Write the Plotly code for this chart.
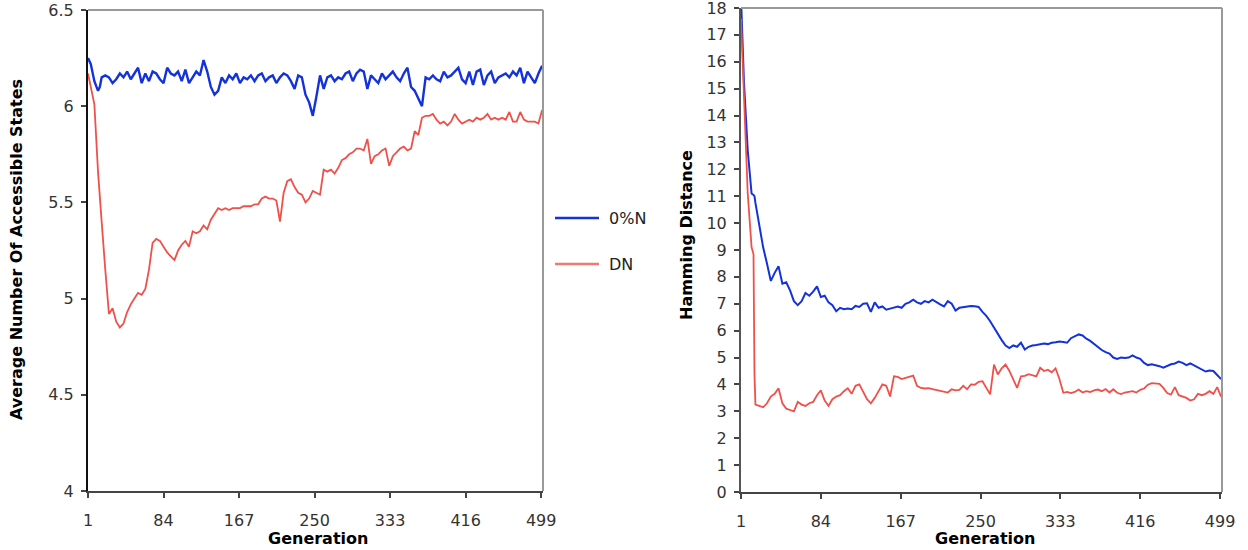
import plotly.graph_objects as go

# Generation index shared by every series (denser at the start where DN collapses)
GENERATIONS = [1, 4, 8, 12, 14, 15, 16] + list(range(20, 501, 4))

# Average number of accessible states
STATES_0N = [
    6.25, 6.22, 6.13, 6.08, 6.10, 6.12, 6.15,
    6.16, 6.15, 6.12, 6.14, 6.17, 6.15, 6.18, 6.14, 6.17, 6.20,
    6.12, 6.17, 6.13, 6.18, 6.17, 6.14, 6.12, 6.20, 6.17, 6.16,
    6.18, 6.13, 6.19, 6.12, 6.15, 6.18, 6.16, 6.24, 6.18, 6.10,
    6.06, 6.08, 6.15, 6.12, 6.16, 6.14, 6.17, 6.12, 6.15, 6.14,
    6.16, 6.13, 6.16, 6.17, 6.13, 6.15, 6.16, 6.12, 6.15, 6.17,
    6.16, 6.13, 6.09, 6.16, 6.15, 6.06, 6.02, 5.95, 6.05, 6.16,
    6.09, 6.15, 6.16, 6.13, 6.15, 6.14, 6.17, 6.18, 6.13, 6.17,
    6.19, 6.18, 6.09, 6.16, 6.14, 6.12, 6.17, 6.14, 6.16, 6.18,
    6.15, 6.13, 6.17, 6.20, 6.10, 6.08, 6.04, 6.00, 6.15, 6.14,
    6.16, 6.14, 6.13, 6.18, 6.15, 6.16, 6.18, 6.20, 6.14, 6.12,
    6.18, 6.11, 6.18, 6.19, 6.11, 6.16, 6.18, 6.12, 6.15, 6.16,
    6.17, 6.15, 6.18, 6.16, 6.20, 6.12, 6.18, 6.15, 6.12, 6.17,
    6.21,
]
STATES_DN = [
    6.17, 6.10, 6.01, 5.66, 5.55, 5.47, 5.40,
    5.15, 4.92, 4.95, 4.88, 4.85, 4.87, 4.93, 4.97, 5.00, 5.03,
    5.02, 5.05, 5.15, 5.29, 5.31, 5.30, 5.27, 5.24, 5.22, 5.20,
    5.25, 5.28, 5.30, 5.27, 5.35, 5.34, 5.35, 5.38, 5.36, 5.41,
    5.44, 5.47, 5.46, 5.47, 5.46, 5.47, 5.47, 5.47, 5.48, 5.48,
    5.48, 5.49, 5.49, 5.52, 5.53, 5.52, 5.52, 5.51, 5.40, 5.55,
    5.61, 5.62, 5.58, 5.55, 5.54, 5.50, 5.52, 5.56, 5.55, 5.54,
    5.67, 5.66, 5.67, 5.65, 5.68, 5.72, 5.73, 5.75, 5.76, 5.78,
    5.78, 5.77, 5.83, 5.70, 5.74, 5.75, 5.77, 5.78, 5.69, 5.74,
    5.76, 5.78, 5.79, 5.77, 5.78, 5.87, 5.85, 5.94, 5.95, 5.95,
    5.96, 5.93, 5.91, 5.92, 5.90, 5.92, 5.96, 5.93, 5.91, 5.92,
    5.93, 5.92, 5.94, 5.93, 5.94, 5.96, 5.93, 5.94, 5.93, 5.94,
    5.93, 5.97, 5.92, 5.92, 5.97, 5.93, 5.92, 5.92, 5.92, 5.91,
    5.98,
]

# Hamming distance
HAMMING_0N = [
    18.4, 15.3, 12.7, 11.1, 11.05, 11.0, 10.75,
    9.9, 9.1, 8.5, 7.85, 8.15, 8.4, 7.75, 7.8, 7.5, 7.1,
    6.95, 7.1, 7.4, 7.3, 7.45, 7.65, 7.25, 7.3, 7.05, 6.95,
    6.72, 6.85, 6.8, 6.82, 6.8, 6.92, 6.88, 7.0, 7.02, 6.7,
    7.05, 6.85, 6.9, 6.78, 6.82, 6.85, 6.9, 6.85, 7.0, 7.05,
    7.15, 7.05, 7.0, 7.1, 7.05, 7.15, 7.05, 6.98, 6.9, 7.1,
    7.0, 6.75, 6.85, 6.88, 6.9, 6.92, 6.91, 6.88, 6.7, 6.55,
    6.35, 6.1, 5.85, 5.65, 5.45, 5.35, 5.45, 5.4, 5.55, 5.3,
    5.4, 5.45, 5.47, 5.5, 5.52, 5.5, 5.55, 5.57, 5.6, 5.58,
    5.55, 5.72, 5.8, 5.86, 5.82, 5.7, 5.62, 5.5, 5.38, 5.28,
    5.2, 5.15, 5.0, 4.95, 5.0, 4.98, 5.0, 5.08, 5.0, 4.95,
    4.8, 4.72, 4.75, 4.72, 4.68, 4.62, 4.7, 4.75, 4.78, 4.85,
    4.8, 4.72, 4.78, 4.7, 4.65, 4.55, 4.48, 4.52, 4.5, 4.35,
    4.2,
]
HAMMING_DN = [
    17.6, 14.8, 11.1, 9.1, 8.85, 4.4, 3.25,
    3.2, 3.15, 3.3, 3.55, 3.65, 3.86, 3.3, 3.1, 3.05, 3.0,
    3.35, 3.25, 3.2, 3.3, 3.35, 3.6, 3.78, 3.4, 3.2, 3.45,
    3.55, 3.6, 3.75, 3.86, 3.65, 3.95, 4.0, 3.7, 3.45, 3.3,
    3.5, 3.75, 4.0, 3.95, 3.55, 4.3, 4.28, 4.2, 4.25, 4.3,
    4.33, 3.95, 3.87, 3.85, 3.86, 3.83, 3.8, 3.75, 3.72, 3.7,
    3.82, 3.78, 3.8, 3.95, 3.82, 4.0, 3.99, 4.1, 4.12, 3.85,
    3.63, 4.74, 4.37, 4.6, 4.74, 4.5, 4.2, 3.87, 4.3, 4.32,
    4.38, 4.35, 4.3, 4.62, 4.5, 4.55, 4.45, 4.6, 4.2, 3.69,
    3.72, 3.68, 3.72, 3.81, 3.7, 3.75, 3.72, 3.78, 3.81, 3.75,
    3.83, 3.7, 3.82, 3.69, 3.64, 3.7, 3.72, 3.75, 3.7, 3.8,
    3.85, 3.99, 4.05, 4.03, 4.02, 3.87, 3.68, 3.62, 3.9, 3.6,
    3.56, 3.5, 3.4, 3.45, 3.65, 3.6, 3.65, 3.75, 3.65, 3.9,
    3.55,
]

for series in (STATES_0N, STATES_DN, HAMMING_0N, HAMMING_DN):
    assert len(series) == len(GENERATIONS), len(series)

GEN_TICKS = [1, 84, 167, 250, 333, 416, 499]
SERIES_NAMES = ["0%N", "DN"]

BLUE = "#1432dc"
RED = "#f0504a"
W, H = 1248, 550
FONT = "DejaVu Sans"

# plot areas in pixels: (left, right, top, bottom)
LEFT_BOX = (88, 543, 10, 491)
RIGHT_BOX = (741, 1222, 8, 492)


def xdom(box):
    return [box[0] / W, box[1] / W]


def ydom(box):
    return [1 - box[3] / H, 1 - box[2] / H]


fig = go.Figure()
fig.add_trace(go.Scatter(x=GENERATIONS, y=STATES_0N, name=SERIES_NAMES[0], mode="lines",
                         line=dict(color=BLUE, width=2.4), xaxis="x", yaxis="y"))
fig.add_trace(go.Scatter(x=GENERATIONS, y=STATES_DN, name=SERIES_NAMES[1], mode="lines",
                         line=dict(color=RED, width=1.8), xaxis="x", yaxis="y"))
fig.add_trace(go.Scatter(x=GENERATIONS, y=HAMMING_0N, name=SERIES_NAMES[0], mode="lines",
                         line=dict(color=BLUE, width=2.0), xaxis="x2", yaxis="y2"))
fig.add_trace(go.Scatter(x=GENERATIONS, y=HAMMING_DN, name=SERIES_NAMES[1], mode="lines",
                         line=dict(color=RED, width=1.8), xaxis="x2", yaxis="y2"))

tick_font = dict(family=FONT, size=16, color="#333333")
xaxis_common = dict(range=[1, 501], tickvals=GEN_TICKS, ticks="outside", ticklen=5,
                    tickwidth=1.5, tickcolor="#444444", showline=True, linewidth=2,
                    linecolor="#444444", showgrid=False, zeroline=False,
                    tickfont=tick_font, ticklabelstandoff=9, automargin=False,
                    ticklabeloverflow="allow")
yaxis_common = dict(ticks="outside", ticklen=5, tickwidth=1.5, tickcolor="#444444",
                    showline=True, linewidth=2, showgrid=False, zeroline=False,
                    tickfont=tick_font, ticklabelstandoff=4, automargin=False,
                    ticklabeloverflow="allow")

fig.update_layout(
    width=W, height=H,
    margin=dict(l=0, r=0, t=0, b=0, autoexpand=False),
    paper_bgcolor="white", plot_bgcolor="white",
    showlegend=False,
    font=dict(family=FONT),
    xaxis=dict(domain=xdom(LEFT_BOX), anchor="y", **xaxis_common),
    yaxis=dict(domain=ydom(LEFT_BOX), anchor="x", range=[4, 6.5], dtick=0.5,
               linecolor="#111111", **yaxis_common),
    xaxis2=dict(domain=xdom(RIGHT_BOX), anchor="y2", **xaxis_common),
    yaxis2=dict(domain=ydom(RIGHT_BOX), anchor="x2", range=[0, 18], dtick=1,
                linecolor="#555555", **yaxis_common),
)

# gray top and right frame edges of both plot areas
for xr, yr in (("x", "y"), ("x2", "y2")):
    fig.add_shape(type="line", xref=f"{xr} domain", yref=f"{yr} domain",
                  x0=0, x1=1, y0=1, y1=1, line=dict(color="#999999", width=2))
    fig.add_shape(type="line", xref=f"{xr} domain", yref=f"{yr} domain",
                  x0=1, x1=1, y0=0, y1=1, line=dict(color="#999999", width=2))

title_font = dict(family=FONT, size=16, color="#000000")


def px_x(v):
    return v / W


def px_y(v):
    return 1 - v / H


# axis titles
fig.add_annotation(text="<b>Generation</b>", x=px_x((LEFT_BOX[0] + LEFT_BOX[1]) / 2 + 2),
                   y=px_y(538), xref="paper", yref="paper", showarrow=False,
                   font=title_font, xanchor="center", yanchor="middle")
fig.add_annotation(text="<b>Generation</b>", x=px_x((RIGHT_BOX[0] + RIGHT_BOX[1]) / 2 + 3),
                   y=px_y(538), xref="paper", yref="paper", showarrow=False,
                   font=title_font, xanchor="center", yanchor="middle")
fig.add_annotation(text="<b>Average Number Of Accessible States</b>", x=px_x(16),
                   y=px_y(250), xref="paper", yref="paper", showarrow=False,
                   textangle=-90, font=title_font, xanchor="center", yanchor="middle")
fig.add_annotation(text="<b>Hamming Distance</b>", x=px_x(686),
                   y=px_y(235), xref="paper", yref="paper", showarrow=False,
                   textangle=-90, font=title_font, xanchor="center", yanchor="middle")

# legend between the two panels
for name, color, ypx in ((SERIES_NAMES[0], BLUE, 218), (SERIES_NAMES[1], "#f07a72", 264)):
    fig.add_shape(type="line", xref="paper", yref="paper",
                  x0=px_x(555), x1=px_x(599), y0=px_y(ypx), y1=px_y(ypx),
                  line=dict(color=color, width=2.5))
    fig.add_annotation(text=name, x=px_x(607), y=px_y(ypx), xref="paper", yref="paper",
                       showarrow=False, xanchor="left", yanchor="middle",
                       font=dict(family=FONT, size=16, color="#222222"))

fig.write_html("out.html")
